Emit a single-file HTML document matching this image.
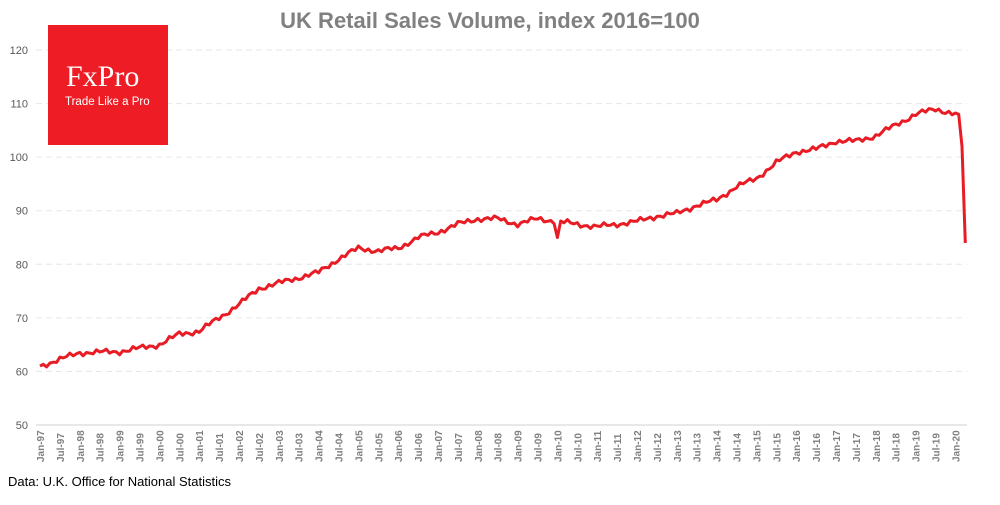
<!DOCTYPE html>
<html><head><meta charset="utf-8"><style>
body{margin:0;background:#fff;width:1000px;height:500px;overflow:hidden;font-family:"Liberation Sans",sans-serif}
</style></head><body>
<svg id="s" width="1000" height="500" xmlns="http://www.w3.org/2000/svg">
<text x="490" y="28" text-anchor="middle" font-size="22" font-weight="bold" fill="#808080" font-family="Liberation Sans">UK Retail Sales Volume, index 2016=100</text>
<g id="grid"></g>
<rect x="48" y="25" width="120" height="120" fill="#ee1c24"/>
<text x="66" y="86" font-family="Liberation Serif" font-size="30" fill="#fff">FxPro</text>
<text x="65" y="105" font-size="11.5" fill="#fff">Trade Like a Pro</text>
<polyline id="ln" fill="none" stroke="#e81c24" stroke-width="3" stroke-linejoin="round"/>
<text x="8" y="486" font-size="13" fill="#000">Data: U.K. Office for National Statistics</text>
</svg>
<script>
var g=document.getElementById("grid");
function X(m){return 40+m*19.9/6}function Y(v){return 425-(v-50)*5.357}
var h="";
for(var v=50;v<=120;v+=10){var y=Y(v);
h+=v==50?'<line x1="36" x2="967" y1="'+y+'" y2="'+y+'" stroke="#d0d0d0"/>':'<line x1="36" x2="967" y1="'+y+'" y2="'+y+'" stroke="#e6e6e6" stroke-dasharray="6,4"/>';
h+='<text x="28" y="'+(y+4)+'" text-anchor="end" font-size="11" fill="#595959">'+v+'</text>';}
for(var i=0;i<47;i++){var yr=97+Math.floor(i/2);yr=(yr%100+100)%100;var lab=(i%2?'Jul-':'Jan-')+(yr<10?'0':'')+yr;var x=X(i*6)+4;
h+='<text transform="translate('+x+',462) rotate(-90)" font-size="10" font-weight="bold" fill="#7f7f7f">'+lab+'</text>';}
g.innerHTML=h;
var a=[[0,61],[12,63.5],[24,63.7],[36,65],[42,67],[48,67.5],[54,70],[60,72.5],[66,75.5],[72,76.5],[84,78.5],[90,81],[96,83],[102,82.5],[108,83],[114,85],[120,86],[126,87.5],[132,88.5],[138,88.5],[144,87.5],[150,88.5],[156,88],[162,87.5],[168,87],[174,87.5],[180,88],[186,89],[192,89.5],[198,91],[204,92],[210,94.5],[216,96],[222,99],[228,101],[234,101.5],[240,103],[246,103],[252,104],[258,106],[264,108],[270,109],[276,108],[277,108],[278,102],[279,84]];
var pts=[];
for(var m=0;m<=279;m++){var j=0;while(j<a.length-2&&a[j+1][0]<=m)j++;var p=a[j],q=a[j+1];var v=p[1]+(q[1]-p[1])*(m-p[0])/(q[0]-p[0]);
if(m<277)v+=0.35*Math.sin(m*2.3)+0.25*Math.sin(m*5.7);
if(m==156)v=85;
pts.push(X(m).toFixed(1)+","+Y(v).toFixed(1));}
document.getElementById("ln").setAttribute("points",pts.join(" "));
</script>
</body></html>
